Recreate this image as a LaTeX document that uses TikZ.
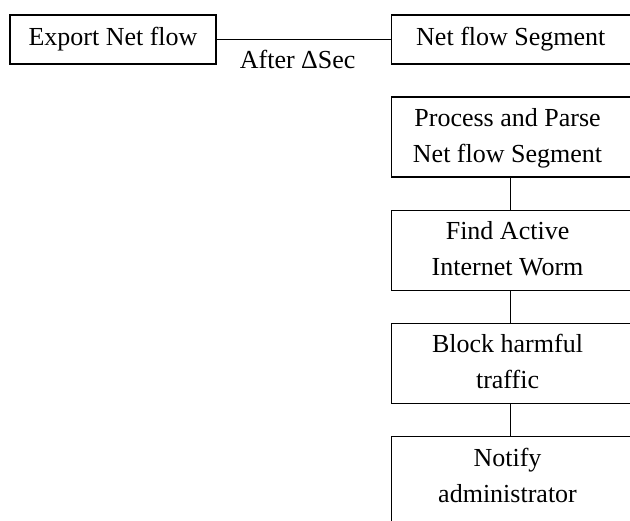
\documentclass[tikz,border=0pt]{standalone}
\usepackage{fontspec}
\setmainfont{Liberation Serif}
\usepackage{tikz}
\usetikzlibrary{matrix,positioning}
\tikzset{
	stage/.style={draw, inner sep=1.0mm, font=\fontsize{26}{36}\selectfont, fill=white, align=center},
	flowbox/.style={stage, minimum height=49pt},
	chainbox/.style={stage, minimum width=239pt, minimum height=80pt},
	delay/.style={font=\fontsize{26}{30}\selectfont, inner sep=2pt}
}
\newcommand{\connectstages}[2]{
	\draw (#1.south) -- (#2.north);
}

\begin{document}
\begin{tikzpicture}[ampersand replacement=\&, line width=1.3pt]
			\clip (0,0) rectangle (630pt,-521pt);
			
			\node[flowbox, minimum width=206pt] (export) at (113pt,-39.5pt) {Export Net flow};
			\node[flowbox, minimum width=239pt, right=174pt of export] (segment) {Net flow Segment};
			
			\draw (export.east) -- node[delay, below=8pt, xshift=-6pt] (after) {After ΔSec} (segment.west);
			
			\matrix (chain)[matrix of nodes,
					  below=31pt of segment, inner sep=0pt,
					  column sep=0pt, row sep=32pt, nodes=chainbox]{
				\begin{tabular}{c} Process and Parse \\ Net flow Segment \end{tabular} \\ %chain-1-1
				\begin{tabular}{c} Find Active \\ Internet Worm \end{tabular} \\ %chain-2-1
				\begin{tabular}{c} Block harmful \\ traffic \end{tabular} \\ %chain-3-1
				|[minimum height=100pt, text depth=49pt]| \begin{tabular}{c} Notify \\ administrator \end{tabular} \\ %chain-4-1
			};
			
			\connectstages{chain-1-1}{chain-2-1};
			\connectstages{chain-2-1}{chain-3-1};
			\connectstages{chain-3-1}{chain-4-1};
		
		\end{tikzpicture}
\end{document}
